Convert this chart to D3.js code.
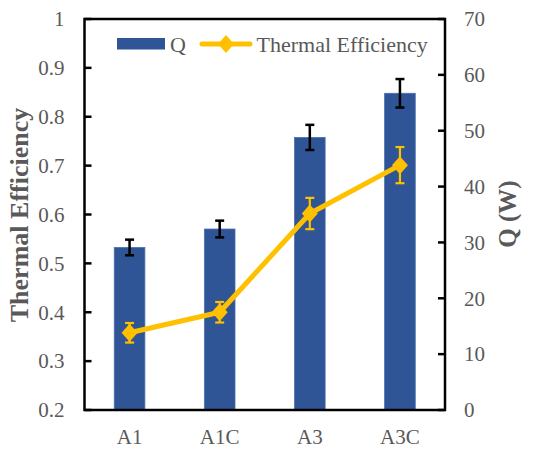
<!DOCTYPE html>
<html>
<head>
<meta charset="utf-8">
<script src="https://cdn.jsdelivr.net/npm/d3@7"></script>
</head>
<body style="margin:0">
<div id="chart"></div>
<script>
// data
const categories = ['A1', 'A1C', 'A3', 'A3C'];
const qValues = [29.1, 32.4, 48.8, 56.7];
const qErrors = [1.4, 1.5, 2.25, 2.55];
const effValues = [0.358, 0.400, 0.602, 0.701];
const effErrors = [0.020, 0.021, 0.032, 0.037];
const leftTicks = [0.2, 0.3, 0.4, 0.5, 0.6, 0.7, 0.8, 0.9, 1];
const rightTicks = [0, 10, 20, 30, 40, 50, 60, 70];

var width = 554, height = 449;
var margin = { left: 84.5, right: 109, top: 19, bottom: 39 };
var innerW = width - margin.left - margin.right;
var innerH = height - margin.top - margin.bottom;
var grey = '#595959';
var blue = '#2F5597';
var yellow = '#FFC000';

var svg = d3.select('#chart')
  .append('svg')
  .attr('width', width)
  .attr('height', height);

var g = svg.append('g')
  .attr('transform', 'translate(' + margin.left + ',' + margin.top + ')');

var x = d3.scaleBand().domain(categories).range([0, innerW]).padding(0);
var yL = d3.scaleLinear().domain([0.2, 1]).range([innerH, 0]);
var yR = d3.scaleLinear().domain([0, 70]).range([innerH, 0]);
var barW = x.bandwidth() * 0.34;

function cx(i) { return x(categories[i]) + x.bandwidth() / 2; }

// bars (Q)
g.selectAll('rect.bar')
  .data(qValues)
  .enter()
  .append('rect')
  .attr('class', 'bar')
  .attr('x', function (d, i) { return cx(i) - barW / 2; })
  .attr('y', function (d) { return yR(d); })
  .attr('width', barW)
  .attr('height', function (d) { return innerH - yR(d); })
  .attr('fill', blue)
  .attr('stroke', '#4a6fb0')
  .attr('stroke-width', 0.8);

// error bars
var capW = 4.5;
function errorBar(px, top, bot, color, sw) {
  var eg = g.append('g').attr('stroke', color).attr('stroke-width', sw);
  eg.append('line').attr('x1', px).attr('x2', px).attr('y1', top).attr('y2', bot);
  eg.append('line').attr('x1', px - capW).attr('x2', px + capW).attr('y1', top).attr('y2', top);
  eg.append('line').attr('x1', px - capW).attr('x2', px + capW).attr('y1', bot).attr('y2', bot);
}
qValues.forEach(function (v, i) {
  errorBar(cx(i), yR(v + qErrors[i]), yR(v - qErrors[i]), '#000', 2.5);
});

// efficiency line
var line = d3.line()
  .x(function (d, i) { return cx(i); })
  .y(function (d) { return yL(d); });

g.append('path')
  .datum(effValues)
  .attr('d', line)
  .attr('fill', 'none')
  .attr('stroke', yellow)
  .attr('stroke-width', 5)
  .attr('stroke-linejoin', 'round')
  .attr('stroke-linecap', 'round');

// diamond marker, a bit taller than wide
function diamondPath(w, h) {
  return 'M0,' + (-h) + 'L' + w + ',0L0,' + h + 'L' + (-w) + ',0Z';
}

effValues.forEach(function (v, i) {
  errorBar(cx(i), yL(v + effErrors[i]), yL(v - effErrors[i]), yellow, 2.2);
  g.append('path')
    .attr('d', diamondPath(8, 9))
    .attr('transform', 'translate(' + cx(i) + ',' + yL(v) + ')')
    .attr('fill', yellow);
});

// frame
g.append('rect')
  .attr('x', 0).attr('y', 0)
  .attr('width', innerW).attr('height', innerH)
  .attr('fill', 'none')
  .attr('stroke', '#000')
  .attr('stroke-width', 2.5);

// inward ticks
g.selectAll('line.lt')
  .data(leftTicks)
  .enter()
  .append('line')
  .attr('x1', 0).attr('x2', 7)
  .attr('y1', function (d) { return yL(d); })
  .attr('y2', function (d) { return yL(d); })
  .attr('stroke', '#000').attr('stroke-width', 2.5);

g.selectAll('line.rt')
  .data(rightTicks)
  .enter()
  .append('line')
  .attr('x1', innerW - 7).attr('x2', innerW)
  .attr('y1', function (d) { return yR(d); })
  .attr('y2', function (d) { return yR(d); })
  .attr('stroke', '#000').attr('stroke-width', 2.5);

// all texts
function label(parent, px, py, str, size, anchor, bold, rotate) {
  var t = parent.append('text')
    .attr('font-family', 'Liberation Serif')
    .attr('font-size', size)
    .attr('fill', grey)
    .attr('text-anchor', anchor)
    .attr('dy', '0.35em')
    .text(str);
  if (bold) t.attr('font-weight', 'bold');
  if (rotate) t.attr('transform', 'translate(' + px + ',' + py + ') rotate(-90)');
  else t.attr('x', px).attr('y', py);
  return t;
}

leftTicks.forEach(function (d) {
  label(g, -20, yL(d), d === 1 ? '1' : d.toFixed(1), 21, 'end');
});
rightTicks.forEach(function (d) {
  label(g, innerW + 19, yR(d), String(d), 21, 'start');
});
categories.forEach(function (d, i) {
  label(g, cx(i), innerH + 27, d, 21, 'middle');
});

label(svg, 19, 215, 'Thermal Efficiency', 26, 'middle', true, true);
label(svg, 507, 214, 'Q (W)', 25, 'middle', true, true);

// legend
svg.append('rect')
  .attr('x', 117).attr('y', 38)
  .attr('width', 48).attr('height', 11.5)
  .attr('fill', blue);
label(svg, 170, 44, 'Q', 22, 'start');
svg.append('line')
  .attr('x1', 202).attr('x2', 250)
  .attr('y1', 44).attr('y2', 44)
  .attr('stroke', yellow).attr('stroke-width', 5)
  .attr('stroke-linecap', 'round');
svg.append('path')
  .attr('d', diamondPath(8, 9))
  .attr('transform', 'translate(226,44)')
  .attr('fill', yellow);
label(svg, 256.5, 44, 'Thermal Efficiency', 22, 'start');
</script>
</body>
</html>
